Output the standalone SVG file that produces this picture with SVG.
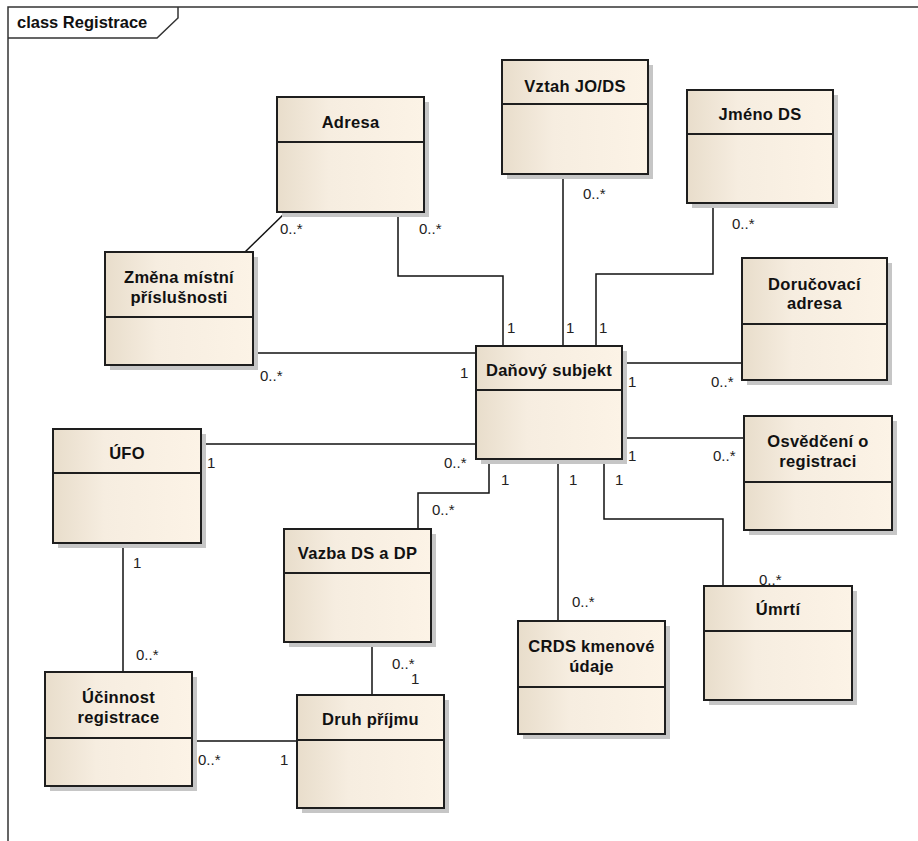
<svg xmlns="http://www.w3.org/2000/svg" width="918" height="841" viewBox="0 0 918 841">
  <defs>
    <linearGradient id="fill" x1="0" y1="0" x2="1" y2="0">
      <stop offset="0" stop-color="#e8ddcb"/>
      <stop offset="0.35" stop-color="#f6ede0"/>
      <stop offset="1" stop-color="#fcf3e6"/>
    </linearGradient>
    <style>
      .frame { fill: none; stroke: #333; stroke-width: 1.5; }
      .shadow { fill: #c6c6c6; }
      .box { fill: url(#fill); stroke: #1e1e1e; stroke-width: 2; }
      .sep { stroke: #1e1e1e; stroke-width: 2; }
      .title { font-family: "Liberation Sans", Arial, sans-serif; font-size: 16.5px; font-weight: bold; fill: #111; text-anchor: middle; letter-spacing: 0.3px; }
      .hdr { font-family: "Liberation Sans", Arial, sans-serif; font-size: 16.5px; font-weight: bold; fill: #111; }
      .edge { fill: none; stroke: #111; stroke-width: 1.5; }
      .mult { font-family: "Liberation Sans", Arial, sans-serif; font-size: 15px; fill: #222; }
    </style>
  </defs>

  <rect width="918" height="841" fill="#ffffff"/>

  <!-- diagram frame with name tab -->
  <g id="frame">
    <path class="frame" d="M8,841 V7 H918"/>
    <path class="frame" d="M8,38 H157 L178,18 V7"/>
    <text class="hdr" x="17" y="28">class Registrace</text>
  </g>

  <!-- associations -->
  <g id="connectors">
    <path class="edge" d="M286,212 L245,252"/>
    <path class="edge" d="M398,212 V276 H503 V346"/>
    <path class="edge" d="M563,174 V346"/>
    <path class="edge" d="M713,203 V274 H596 V346"/>
    <path class="edge" d="M253,353 H476"/>
    <path class="edge" d="M622,363 H742"/>
    <path class="edge" d="M622,438 H744"/>
    <path class="edge" d="M201,444 H476"/>
    <path class="edge" d="M489,459 V493 H418 V529"/>
    <path class="edge" d="M558,459 V621"/>
    <path class="edge" d="M604,459 V519 H723 V586"/>
    <path class="edge" d="M123,543 V672"/>
    <path class="edge" d="M372,642 V695"/>
    <path class="edge" d="M192,741 H297"/>

    <text class="mult" x="280" y="234">0..*</text>
    <text class="mult" x="419" y="234">0..*</text>
    <text class="mult" x="507" y="333">1</text>
    <text class="mult" x="583" y="199">0..*</text>
    <text class="mult" x="566" y="333">1</text>
    <text class="mult" x="732" y="229">0..*</text>
    <text class="mult" x="599" y="333">1</text>
    <text class="mult" x="260" y="381">0..*</text>
    <text class="mult" x="460" y="378">1</text>
    <text class="mult" x="628" y="387">1</text>
    <text class="mult" x="711" y="387">0..*</text>
    <text class="mult" x="628" y="461">1</text>
    <text class="mult" x="713" y="461">0..*</text>
    <text class="mult" x="207" y="468">1</text>
    <text class="mult" x="444" y="468">0..*</text>
    <text class="mult" x="501" y="485">1</text>
    <text class="mult" x="432" y="515">0..*</text>
    <text class="mult" x="569" y="485">1</text>
    <text class="mult" x="572" y="607">0..*</text>
    <text class="mult" x="615" y="485">1</text>
    <rect x="757" y="571" width="30" height="17" fill="#ffffff"/>
    <text class="mult" x="759" y="585">0..*</text>
    <text class="mult" x="133" y="568">1</text>
    <text class="mult" x="136" y="660">0..*</text>
    <text class="mult" x="392" y="669">0..*</text>
    <text class="mult" x="411" y="684">1</text>
    <text class="mult" x="198" y="765">0..*</text>
    <text class="mult" x="280" y="765">1</text>
  </g>

  <!-- classes -->
  <g id="adresa">
    <rect class="shadow" x="282" y="102" width="147" height="115"/>
    <rect class="box" x="277" y="97" width="147" height="115"/>
    <line class="sep" x1="277" y1="142" x2="424" y2="142"/>
    <text class="title" x="350.5" y="128">Adresa</text>
  </g>

  <g id="zmena-mistni-prislusnosti">
    <rect class="shadow" x="110" y="257" width="148" height="113"/>
    <rect class="box" x="105" y="252" width="148" height="113"/>
    <line class="sep" x1="105" y1="317" x2="253" y2="317"/>
    <text class="title" x="179" y="283">Změna místní</text>
    <text class="title" x="179" y="303">příslušnosti</text>
  </g>

  <g id="vztah-jo-ds">
    <rect class="shadow" x="507" y="65" width="146" height="114"/>
    <rect class="box" x="502" y="60" width="146" height="114"/>
    <line class="sep" x1="502" y1="104" x2="648" y2="104"/>
    <text class="title" x="575" y="92">Vztah JO/DS</text>
  </g>

  <g id="jmeno-ds">
    <rect class="shadow" x="692" y="95" width="146" height="113"/>
    <rect class="box" x="687" y="90" width="146" height="113"/>
    <line class="sep" x1="687" y1="134" x2="833" y2="134"/>
    <text class="title" x="760" y="120">Jméno DS</text>
  </g>

  <g id="danovy-subjekt">
    <rect class="shadow" x="481" y="351" width="146" height="113"/>
    <rect class="box" x="476" y="346" width="146" height="113"/>
    <line class="sep" x1="476" y1="390" x2="622" y2="390"/>
    <text class="title" x="549" y="376">Daňový subjekt</text>
  </g>

  <g id="dorucovaci-adresa">
    <rect class="shadow" x="747" y="263" width="145" height="122"/>
    <rect class="box" x="742" y="258" width="145" height="122"/>
    <line class="sep" x1="742" y1="324" x2="887" y2="324"/>
    <text class="title" x="814.5" y="290">Doručovací</text>
    <text class="title" x="814.5" y="309">adresa</text>
  </g>

  <g id="osvedceni-o-registraci">
    <rect class="shadow" x="749" y="421" width="148" height="114"/>
    <rect class="box" x="744" y="416" width="148" height="114"/>
    <line class="sep" x1="744" y1="482" x2="892" y2="482"/>
    <text class="title" x="818" y="447">Osvědčení o</text>
    <text class="title" x="818" y="467">registraci</text>
  </g>

  <g id="ufo">
    <rect class="shadow" x="58" y="434" width="148" height="114"/>
    <rect class="box" x="53" y="429" width="148" height="114"/>
    <line class="sep" x1="53" y1="473" x2="201" y2="473"/>
    <text class="title" x="127" y="459">ÚFO</text>
  </g>

  <g id="vazba-ds-a-dp">
    <rect class="shadow" x="289" y="534" width="147" height="113"/>
    <rect class="box" x="284" y="529" width="147" height="113"/>
    <line class="sep" x1="284" y1="573" x2="431" y2="573"/>
    <text class="title" x="357.5" y="559">Vazba DS a DP</text>
  </g>

  <g id="crds-kmenove-udaje">
    <rect class="shadow" x="523" y="626" width="147" height="113"/>
    <rect class="box" x="518" y="621" width="147" height="113"/>
    <line class="sep" x1="518" y1="687" x2="665" y2="687"/>
    <text class="title" x="591.5" y="652">CRDS kmenové</text>
    <text class="title" x="591.5" y="672">údaje</text>
  </g>

  <g id="umrti">
    <rect class="shadow" x="709" y="591" width="148" height="114"/>
    <rect class="box" x="704" y="586" width="148" height="114"/>
    <line class="sep" x1="704" y1="631" x2="852" y2="631"/>
    <text class="title" x="778" y="615">Úmrtí</text>
  </g>

  <g id="ucinnost-registrace">
    <rect class="shadow" x="50" y="677" width="147" height="114"/>
    <rect class="box" x="45" y="672" width="147" height="114"/>
    <line class="sep" x1="45" y1="738" x2="192" y2="738"/>
    <text class="title" x="118.5" y="703">Účinnost</text>
    <text class="title" x="118.5" y="723">registrace</text>
  </g>

  <g id="druh-prijmu">
    <rect class="shadow" x="302" y="700" width="147" height="113"/>
    <rect class="box" x="297" y="695" width="147" height="113"/>
    <line class="sep" x1="297" y1="740" x2="444" y2="740"/>
    <text class="title" x="370.5" y="725">Druh příjmu</text>
  </g>
</svg>
